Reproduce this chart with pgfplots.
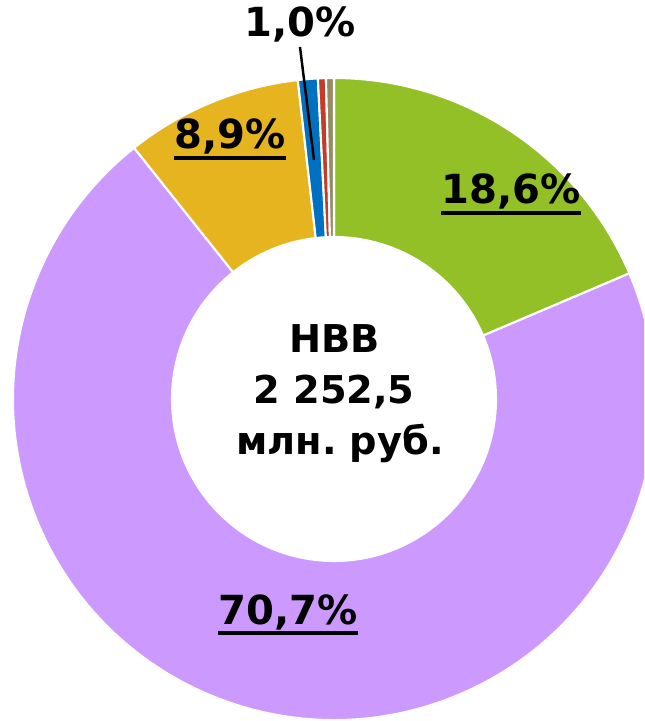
\documentclass[border=0pt]{standalone}
\usepackage{pgfplots}
\pgfplotsset{compat=1.18}
\usepackage{fontspec}
\setmainfont{DejaVu Sans}
\frenchspacing
\definecolor{cGreen}{RGB}{146,192,38}
\definecolor{cPurple}{RGB}{204,153,255}
\definecolor{cGold}{RGB}{230,180,30}
\definecolor{cBlue}{RGB}{0,112,192}
\definecolor{cRed}{RGB}{196,60,40}
\definecolor{cKhaki}{RGB}{150,140,100}
% slice: start percent, end percent, colour (clockwise from 12 o'clock)
\newcommand\slice[3]{%
  \fill[#3, draw=white, line width=0.6pt]
    (axis cs:{321*cos(90-3.6*#1)},{321*sin(90-3.6*#1)})
    arc[start angle={90-3.6*#1}, end angle={90-3.6*#2}, radius=321]
    -- (axis cs:{162*cos(90-3.6*#2)},{162*sin(90-3.6*#2)})
    arc[start angle={90-3.6*#2}, end angle={90-3.6*#1}, radius=162]
    -- cycle;}
\newcommand\ul[1]{\setbox0\hbox{#1}\rlap{\rule[-3.1pt]{\wd0}{1.1pt}}\box0}
\newcommand\lab{\fontsize{11.4}{13}\selectfont\bfseries}
\newcommand\ctr{\fontsize{10.9}{13}\selectfont\bfseries}
\begin{document}
\begin{tikzpicture}
\begin{axis}[
  name=pie,
  x=0.01cm, y=0.01cm,
  xmin=-334, xmax=310, ymin=-322, ymax=399,
  hide axis, clip=true,
]
% values: 18.6, 70.7, 8.9, 1.0, 0.4, 0.4 (cumulative)
\slice{0}{18.6}{cGreen}
\slice{18.6}{89.3}{cPurple}
\slice{89.3}{98.2}{cGold}
\slice{98.2}{99.2}{cBlue}
\slice{99.2}{99.6}{cRed}
\slice{99.6}{100}{cKhaki}
\draw[black, line width=0.7pt] (axis cs:-34,352) -- (axis cs:-20,239);
\node[anchor=base] at (axis cs:177,195) {\lab\ul{18,6\%}};
\node[anchor=base] at (axis cs:-104,250) {\lab\ul{8,9\%}};
\node[anchor=base] at (axis cs:-46,-225) {\lab\ul{70,7\%}};
\node[anchor=base] at (axis cs:-34,362) {\lab 1,0\%};
\node[anchor=base] at (axis cs:0.5,46) {\ctr НВВ};
\node[anchor=base] at (axis cs:0,-5) {\ctr 2 252,5};
\node[anchor=base] at (axis cs:6,-56) {\ctr млн. руб.};
\end{axis}
\pgfresetboundingbox
\path (pie.south west) rectangle (pie.north east);
\end{tikzpicture}
\end{document}
